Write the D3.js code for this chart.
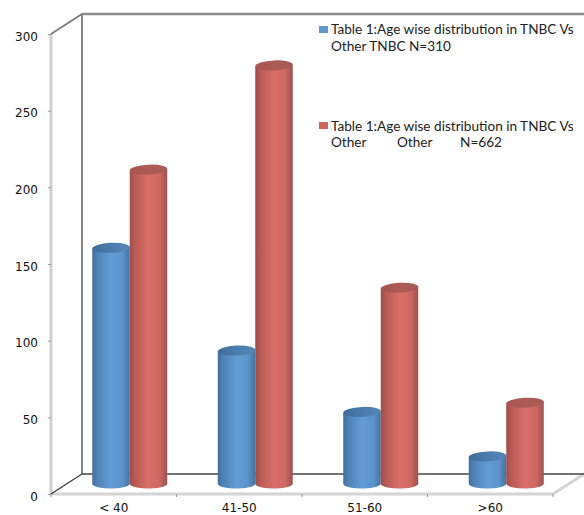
<!DOCTYPE html>
<html lang="en">
  <head>
    <meta charset="UTF-8" />
    <title>Age wise distribution</title>
    <script src="https://d3js.org/d3.v7.min.js"></script>
    <style>
      body { margin: 0; background: #fff; }
      svg { display: block; }
      text { font-family: "DejaVu Sans", sans-serif; fill: #111; }
    </style>
  </head>
  <body>
    <svg id="chart" width="584" height="515"></svg>
    <script>
      // Values
      var categories = ["< 40", "41-50", "51-60", ">60"];
      var tnbc = [154, 87, 47, 18];
      var other = [205, 273, 128, 53];
      var yTicks = [0, 50, 100, 150, 200, 250, 300];
      var legendFirst = ["Table 1:Age wise distribution in TNBC Vs", "Other TNBC N=310"];
      var legendSecond = ["Table 1:Age wise distribution in TNBC Vs", "Other", "Other", "N=662"];

      var svg = d3.select("#chart");

      var x = d3.scaleBand().domain(categories).range([51, 553]);
      var y = d3.scaleLinear().domain([0, 300]).range([494, 34]);

      // depth of the 3d box
      var depthX = 31, depthY = -20;

      var defs = svg.append("defs");
      function addGradient(id, stops) {
        var g = defs.append("linearGradient").attr("id", id);
        stops.forEach(function (s) {
          g.append("stop").attr("offset", s[0]).attr("stop-color", s[1]);
        });
      }
      addGradient("blueGrad", [[0, "#42709d"], [0.15, "#4f83b7"], [0.5, "#639dd6"], [0.8, "#5c94cb"], [1, "#44729f"]]);
      addGradient("redGrad", [[0, "#9c4d49"], [0.15, "#bb5c57"], [0.5, "#da6e68"], [0.8, "#cf6762"], [1, "#985450"]]);
      addGradient("blueTop", [[0, "#3f6c98"], [0.5, "#4a7cad"], [1, "#5486b8"]]);
      addGradient("redTop", [[0, "#a85550"], [0.5, "#ad5a55"], [1, "#a85a56"]]);

      // floor and back wall
      svg.append("path")
        .attr("d", `M${x.range()[0]},${y(0)}H${x.range()[1]}l${depthX},${depthY}`)
        .attr("fill", "none").attr("stroke", "#d4d4d4").attr("stroke-width", 3);
      svg.append("line")
        .attr("x1", x.range()[0]).attr("x2", x.range()[0])
        .attr("y1", y(300)).attr("y2", y(0))
        .attr("stroke", "#cfcfcf").attr("stroke-width", 3);
      svg.append("path")
        .attr("d", `M${x.range()[0]},${y(0)}l${depthX},${depthY}V${y(300) + depthY}`)
        .attr("fill", "none").attr("stroke", "#333").attr("stroke-width", 1.2);
      svg.append("line")
        .attr("x1", x.range()[0]).attr("x2", x.range()[0] + depthX)
        .attr("y1", y(300)).attr("y2", y(300) + depthY)
        .attr("stroke", "#777").attr("stroke-width", 1.5);
      svg.append("line")
        .attr("x1", x.range()[0] + depthX).attr("x2", 584)
        .attr("y1", y(300) + depthY).attr("y2", y(300) + depthY)
        .attr("stroke", "#8a8a8a").attr("stroke-width", 2.5);
      svg.append("line")
        .attr("x1", x.range()[0] + depthX).attr("x2", 584)
        .attr("y1", y(0) + depthY).attr("y2", y(0) + depthY)
        .attr("stroke", "#444").attr("stroke-width", 1.5);

      // y axis
      var yAxis = svg.append("g")
        .attr("transform", `translate(${x.range()[0]},0)`)
        .call(d3.axisLeft(y).tickValues(yTicks).tickSize(3).tickPadding(10));
      yAxis.select(".domain").remove();
      yAxis.selectAll("line").attr("stroke", "#999");
      yAxis.selectAll("text")
        .attr("dy", "0.5em")
        .style("font-size", "12px")
        .style("font-family", "DejaVu Sans");

      // x axis
      var xAxis = svg.append("g").attr("transform", `translate(0,${y(0)})`);
      xAxis.selectAll("line").data(d3.range(categories.length + 1)).enter().append("line")
        .attr("x1", function (d) { return x.range()[0] + d * x.step(); })
        .attr("x2", function (d) { return x.range()[0] + d * x.step(); })
        .attr("y1", 0).attr("y2", 3).attr("stroke", "#999");
      xAxis.selectAll("text").data(categories).enter().append("text")
        .attr("x", function (d) { return x(d) + x.bandwidth() / 2; })
        .attr("y", 18)
        .attr("text-anchor", "middle")
        .style("font-size", "12px")
        .text(function (d) { return d; });

      // cylinders
      var barW = 37.5, rx = barW / 2, ry = 5;
      var baseShift = 10, shiftX = 16;

      function drawCylinder(g, cx, value, grad, topFill) {
        var bottom = y(0) - baseShift;
        var top = y(value) - baseShift;
        // lid and foot lean a little, right end higher
        g.append("path")
          .attr("d", `M${cx - rx},${top + 1}V${bottom}A${rx},${ry} 0 0 0 ${cx + rx},${bottom - 1}V${top - 1}Z`)
          .attr("fill", `url(#${grad})`);
        g.append("ellipse")
          .attr("cx", cx).attr("cy", top).attr("rx", rx).attr("ry", ry)
          .attr("transform", `rotate(-3 ${cx} ${top})`)
          .attr("fill", `url(#${topFill})`);
      }

      var bars = svg.append("g");
      categories.forEach(function (c, i) {
        var mid = x(c) + x.bandwidth() / 2 + shiftX;
        drawCylinder(bars, mid - barW / 2, tnbc[i], "blueGrad", "blueTop");
        drawCylinder(bars, mid + barW / 2, other[i], "redGrad", "redTop");
      });

      // legend
      var legend = svg.append("g").selectAll("x").data([0]).enter().append("g");
      function legendText(tx, ty, str) {
        legend.append("text").attr("x", tx).attr("y", ty)
          .style("font-family", "Lato").style("font-size", "13.6px").style("fill", "#222")
          .text(str);
      }
      legend.append("rect").attr("x", 319).attr("y", 26).attr("width", 9).attr("height", 7).attr("fill", "#5f98d0");
      legendText(331, 34, legendFirst[0]);
      legendText(331, 51, legendFirst[1]);
      legend.append("rect").attr("x", 319).attr("y", 122).attr("width", 9).attr("height", 7).attr("fill", "#d0655f");
      legendText(331, 131, legendSecond[0]);
      legendText(331, 147, legendSecond[1]);
      legendText(397, 147, legendSecond[2]);
      legendText(460, 147, legendSecond[3]);
    </script>
  </body>
</html>
